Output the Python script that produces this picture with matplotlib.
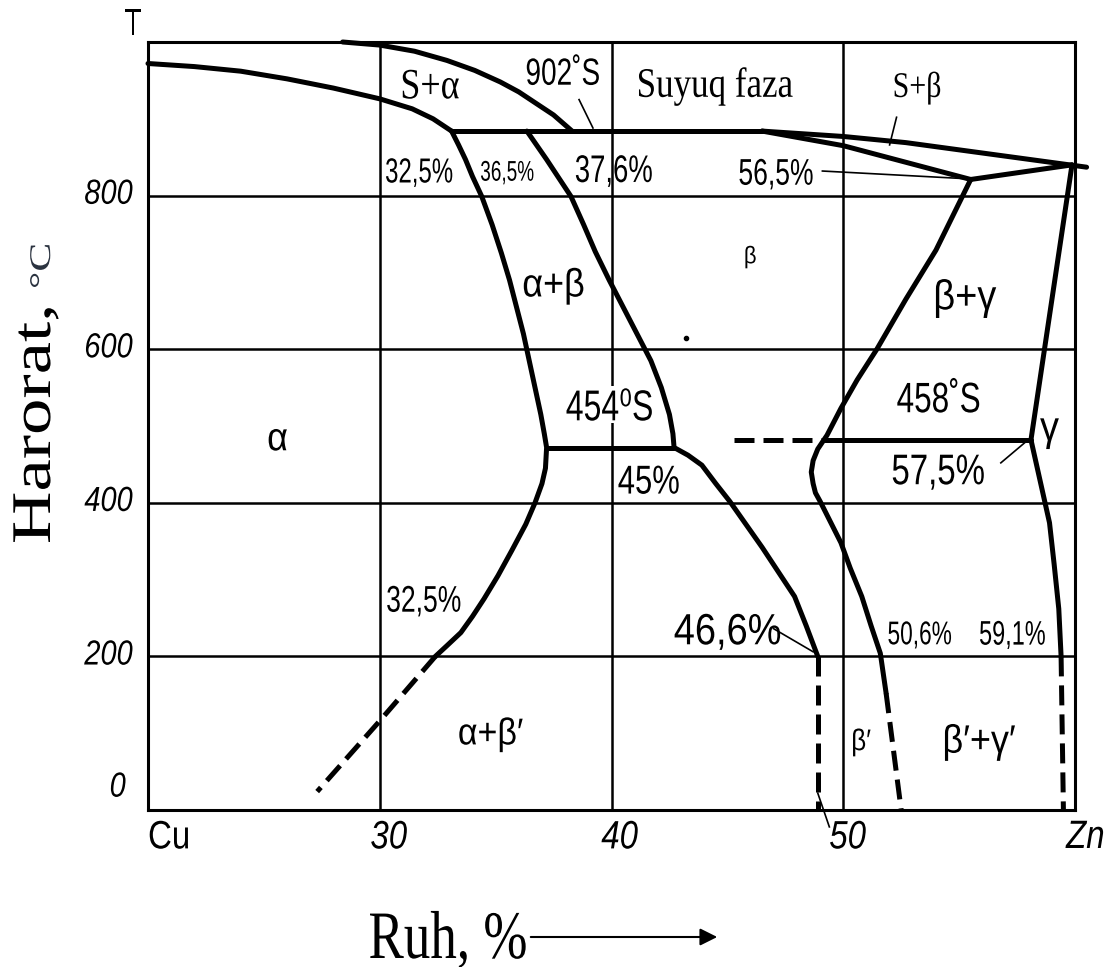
import matplotlib
matplotlib.use('Agg')
import matplotlib.pyplot as plt
from matplotlib.textpath import TextPath
from matplotlib.patches import PathPatch, Rectangle
from matplotlib.font_manager import FontProperties
from matplotlib.transforms import Affine2D, IdentityTransform

# composition (% Zn) and temperature (C)
liq_alpha_x = [28.4, 30.0, 31.5, 32.9, 34.1, 35.2, 36.0, 36.7, 37.5, 38.3]
liq_alpha_t = [1000, 996, 988, 976, 963, 948, 935, 921, 905, 884]
sol_alpha_x = [20.0, 22.0, 24.0, 26.0, 28.0, 30.0, 31.4, 32.3, 32.8, 33.1]
sol_alpha_t = [972, 968, 962, 952, 940, 926, 913, 900, 890, 884]
perit_x = [33.1, 46.5]
perit_t = [884, 884]
liq_beta_x = [46.5, 50.0, 52.7, 60.5]
liq_beta_t = [884, 877, 869, 837]
sol_beta_x = [46.5, 50.0, 55.5]
sol_beta_t = [884, 865, 821]
perit2_x = [55.5, 59.87]
perit2_t = [821, 840]

a_ab_x = [33.1, 33.4, 33.7, 34.0, 34.4, 34.85, 35.25, 35.6, 35.9, 36.2, 36.45,
          36.7, 36.95, 37.1, 37.2, 37.15, 37.0, 36.7, 36.3, 35.7, 35.1, 34.5,
          34.0, 33.5, 32.9, 32.4]
a_ab_t = [884, 866, 847, 825, 799, 762, 725, 690, 655, 620, 585, 550, 515,
          490, 472, 445, 425, 400, 372, 338, 305, 275, 252, 231, 214, 200]
a_ab_dash_x = [32.4, 30.0, 27.3]
a_ab_dash_t = [200, 116, 24]

b_ab_x = [36.35, 37.2, 38.25, 38.8, 39.3, 39.9, 40.5, 41.1, 41.7, 42.15, 42.5,
          42.65, 42.7, 43.3, 43.9, 44.5, 45.1, 45.8, 46.5, 47.2, 47.9, 48.4,
          48.9]
b_ab_t = [884, 847, 799, 762, 727, 690, 655, 620, 585, 550, 515, 490, 472,
          462, 449, 425, 402, 372, 342, 310, 278, 240, 200]
b_ab_dash_x = [48.9, 48.9]
b_ab_dash_t = [200, 0]

eut_x = [37.2, 42.7]
eut_t = [472, 472]

b_bg_x = [55.5, 54.0, 52.7, 51.45, 50.6, 49.9, 49.3, 48.9, 48.7, 48.62, 48.7,
          48.8, 49.0, 49.4, 49.9, 50.3, 50.8, 51.2, 51.6, 51.85]
b_bg_t = [821, 729, 665, 600, 560, 523, 488, 470, 455, 440, 425, 413, 402,
          378, 348, 315, 278, 240, 204, 152]
b_bg_dash_x = [51.85, 52.5]
b_bg_dash_t = [152, 0]

g_up_x = [59.87, 58.1]
g_up_t = [840, 482]
g_x = [58.1, 58.5, 58.9, 59.1, 59.3, 59.4]
g_t = [482, 428, 374, 320, 262, 200]
g_dash_x = [59.4, 59.5]
g_dash_t = [200, 0]

bg_line_x = [49.2, 58.1]
bg_line_t = [482, 482]
bg_dash_x = [45.3, 49.2]
bg_dash_t = [482, 482]

# leader lines: (x0, t0, x1, t1)
leaders = [
    (38.6, 925, 39.2, 888),
    (52.0, 866, 52.3, 902),
    (49.1, 832, 55.3, 822),
    (56.8, 452, 57.9, 480),
    (47.0, 236, 48.7, 206),
    (48.9, 22, 49.4, -22),
]

# text, x, t, family key, em size (px), vertical stretch
labels = [
    ('S+α', 32.2, 945, 'serif', 36, 1.2),
    ('902˚S', 37.9, 964, 'sans', 28, 1.35),
    ('Suyuq faza', 44.5, 942, 'serif', 35, 1.2),
    ('S+β', 53.2, 940, 'serif', 30, 1.2),
    ('32,5%', 31.7, 830, 'sans', 24, 1.45),
    ('36,5%', 35.5, 830, 'sans', 19, 1.5),
    ('37,6%', 40.1, 832, 'sans', 27.5, 1.4),
    ('56,5%', 47.1, 828, 'sans', 26.5, 1.4),
    ('α+β', 37.5, 682, 'sans', 36, 1.1),
    ('β', 46.0, 720, 'sans', 22, 1.1),
    ('β+γ', 55.3, 666, 'sans', 38, 1.1),
    ('454⁰S', 39.9, 528, 'sans', 32, 1.35),
    ('458˚S', 54.1, 540, 'sans', 31.5, 1.35),
    ('α', 25.6, 482, 'sans', 36, 1.1),
    ('γ', 58.9, 490, 'sans', 38, 1.1),
    ('45%', 41.6, 430, 'sans', 31, 1.3),
    ('57,5%', 54.1, 440, 'sans', 33, 1.3),
    ('32,5%', 31.9, 272, 'sans', 26.5, 1.4),
    ('46,6%', 45.0, 232, 'sans', 38, 1.15),
    ('50,6%', 53.3, 228, 'sans', 22.7, 1.45),
    ('59,1%', 57.3, 228, 'sans', 23.5, 1.45),
    ('α+β′', 34.8, 98, 'sans', 34, 1.1),
    ('β′', 50.8, 88, 'sans', 26, 1.15),
    ('β′+γ′', 55.9, 88, 'sans', 36, 1.1),
]

x_ticks = [30.4, 40.35, 50.2]
x_tick_labels = ['30', '40', '50']
y_ticks = [200, 400, 600, 800]
y_tick_labels = ['200', '400', '600', '800']

fams = {
    'serif': ['Liberation Serif', 'DejaVu Serif'],
    'sans': ['Liberation Sans', 'DejaVu Sans'],
}

W, H = 1111, 967
fig = plt.figure(figsize=(W / 100, H / 100), dpi=100)
ax = fig.add_axes([148 / W, 1 - 810 / H, 927 / W, 768 / H])
ax.set_xlim(20, 60)
ax.set_ylim(0, 1000)
ax.set_xticks([])
ax.set_yticks([])


def put_text(s, x, y, em, family, ha='center', va='center', sx=1.0, sy=1.0,
             rot=0, style='normal', coords='data', color='black', bg=False):
    # text drawn as a path so that it can be stretched like the scan
    tp = TextPath((0, 0), s, size=em,
                  prop=FontProperties(family=family, style=style))
    bb = tp.get_extents()
    ox = {'left': bb.x0, 'center': (bb.x0 + bb.x1) / 2, 'right': bb.x1}[ha]
    oy = {'bottom': bb.y0, 'center': (bb.y0 + bb.y1) / 2, 'top': bb.y1,
          'baseline': 0}[va]
    if coords == 'data':
        px, py = ax.transData.transform((x, y))
    else:
        px, py = x, H - y
    tr = (Affine2D().translate(-ox, -oy).scale(sx, sy).rotate_deg(rot)
          .translate(px, py))
    path = tr.transform_path(tp)
    if bg:
        e = path.get_extents()
        fig.add_artist(Rectangle((e.x0 - 2, e.y0 - 2), e.width + 4,
                                 e.height + 4, facecolor='white',
                                 edgecolor='none',
                                 transform=IdentityTransform(), zorder=4))
    fig.add_artist(PathPatch(path, facecolor=color, edgecolor='none',
                             transform=IdentityTransform(), zorder=5))


for gx in [30, 40, 50]:
    ax.axvline(gx, color='black', lw=1.8, zorder=1)
for gy in y_ticks:
    ax.axhline(gy, color='black', lw=1.8, zorder=1)

thick = dict(color='black', lw=3.6, solid_capstyle='round',
             solid_joinstyle='round', zorder=3)
dashed = dict(color='black', lw=3.6, ls=(0, (4, 1.8)), zorder=3)
for xs, ts in [(liq_alpha_x, liq_alpha_t), (sol_alpha_x, sol_alpha_t),
               (perit_x, perit_t), (liq_beta_x, liq_beta_t),
               (sol_beta_x, sol_beta_t), (perit2_x, perit2_t),
               (a_ab_x, a_ab_t), (b_ab_x, b_ab_t), (eut_x, eut_t),
               (b_bg_x, b_bg_t), (g_up_x, g_up_t), (g_x, g_t),
               (bg_line_x, bg_line_t)]:
    ax.plot(xs, ts, clip_on=False, **thick)
for xs, ts in [(a_ab_dash_x, a_ab_dash_t), (b_ab_dash_x, b_ab_dash_t),
               (b_bg_dash_x, b_bg_dash_t), (g_dash_x, g_dash_t),
               (bg_dash_x, bg_dash_t)]:
    ax.plot(xs, ts, **dashed)

for x0, t0, x1, t1 in leaders:
    ax.plot([x0, x1], [t0, t1], color='black', lw=1.2, clip_on=False, zorder=3)
ax.plot([43.2], [614], 'o', color='black', ms=3)

for txt, x, t, fam, em, sy in labels:
    put_text(txt, x, t, em, fams[fam], sy=sy, bg=txt.startswith('454'))

for s in ax.spines.values():
    s.set_linewidth(2.2)

for xt, lab in zip(x_ticks, x_tick_labels):
    put_text(lab, xt, -14, 33, fams['sans'], va='top', sy=1.2, style='italic')
for yt, lab in zip(y_ticks, y_tick_labels):
    put_text(lab, 19.33, yt + 5, 29, fams['sans'], ha='right', sy=1.2,
             style='italic')
put_text('0', 19.03, 33, 29, fams['sans'], ha='right', sy=1.2, style='italic')
put_text('Cu', 20.9, -14, 33, fams['sans'], va='top', sy=1.2)
put_text('Zn', 60.4, -14, 33, fams['sans'], va='top', sy=1.2, style='italic')
put_text('T', 133, 22, 30, fams['sans'], sy=1.3, coords='px')

put_text('Harorat,', 50, 542, 56, fams['serif'], ha='left', va='baseline',
         sx=1.3, rot=90, coords='px')
put_text('°C', 50, 287, 30, fams['serif'], ha='left', va='baseline',
         sx=1.45, rot=90, coords='px', color='#2b3340')
put_text('Ruh, %', 370, 958, 53, fams['serif'], ha='left', va='baseline',
         sy=1.28, coords='px')
ax.annotate('', xy=(720, H - 937), xytext=(528, H - 937),
            xycoords='figure pixels', textcoords='figure pixels',
            arrowprops=dict(arrowstyle='-|>', color='black', lw=1.5,
                            mutation_scale=26))

fig.savefig('out.png', dpi=100, facecolor='white')
